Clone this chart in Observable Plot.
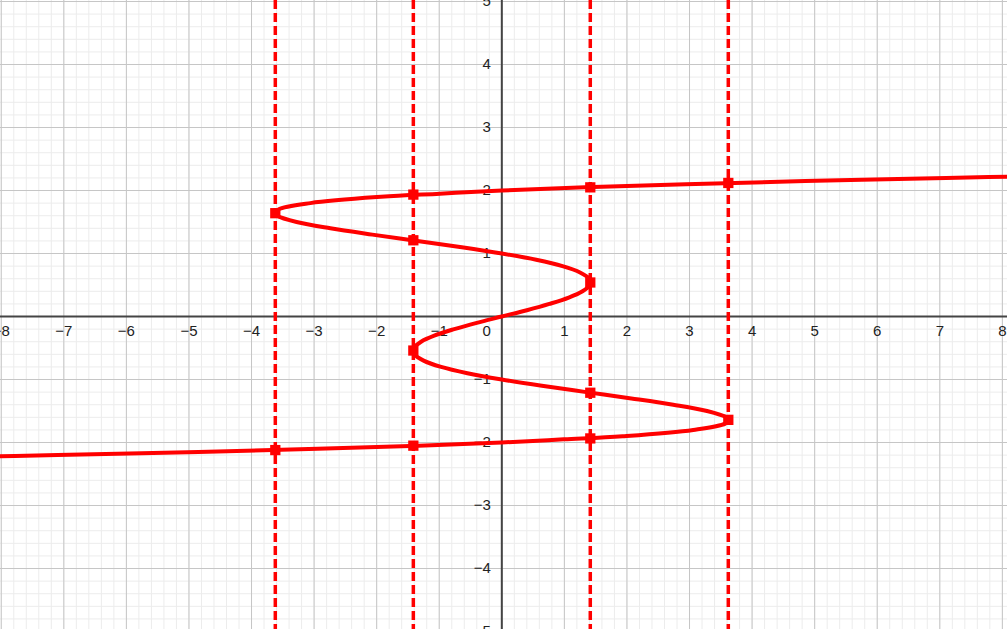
<!DOCTYPE html>
<html>
<head>
<meta charset="utf-8">
<script src="https://cdn.jsdelivr.net/npm/d3@7"></script>
<script src="https://cdn.jsdelivr.net/npm/@observablehq/plot@0.6"></script>
<style>
  html, body { margin: 0; padding: 0; background: #fff; overflow: hidden; }
</style>
</head>
<body>
<div id="chart"></div>
<script>
// Tick labels
const xTicks = [-8, -7, -6, -5, -4, -3, -2, -1, 1, 2, 3, 4, 5, 6, 7, 8];
const yTicks = [-5, -4, -3, -2, -1, 1, 2, 3, 4, 5];

// Curve points (y, x)
const curveY = [-2.24, -2.22, -2.2, -2.15, -2.1, -2.05, -2.0, -1.95, -1.9, -1.8, -1.7, -1.64, -1.6, -1.5, -1.4, -1.3, -1.2, -1.1, -1.0, -0.9, -0.8, -0.7, -0.6, -0.54, -0.5, -0.4, -0.3, -0.2, -0.1, 0,
  0.1, 0.2, 0.3, 0.4, 0.5, 0.54, 0.6, 0.7, 0.8, 0.9, 1.0, 1.1, 1.2, 1.3, 1.4, 1.5, 1.6, 1.64, 1.7, 1.8, 1.9, 1.95, 2.0, 2.05, 2.1, 2.15, 2.2, 2.22, 2.24];
const curveX = [-9.1, -8.1, -7.1, -4.85, -2.94, -1.33, 0, 0.99, 1.93, 3.06, 3.57, 3.63, 3.59, 3.28, 2.74, 2.07, 1.35, 0.64, 0, -0.55, -0.97, -1.25, -1.40, -1.42, -1.41, -1.29, -1.07, -0.76, -0.40, 0,
  0.40, 0.76, 1.07, 1.29, 1.41, 1.42, 1.40, 1.25, 0.97, 0.55, 0, -0.64, -1.35, -2.07, -2.74, -3.28, -3.59, -3.63, -3.57, -3.06, -1.93, -0.99, 0, 1.33, 2.94, 4.85, 7.1, 8.1, 9.1];

// Vertical dashed lines
const vLines = [-3.62, -1.414, 1.414, 3.62];

// Marked intersection points
const markX = [-3.62, -3.62, -1.414, -1.414, -1.414, -1.414, 1.414, 1.414, 1.414, 1.414, 3.62, 3.62];
const markY = [1.64, -2.12, 1.935, 1.21, -0.54, -2.05, 2.05, 0.54, -1.21, -1.935, 2.12, -1.64];

const curve = curveY.map((y, i) => ({x: curveX[i], y}));
const marks = markX.map((x, i) => ({x, y: markY[i]}));

const minorX = d3.range(-80, 81, 2).map(v => v / 10);
const minorY = d3.range(-50, 51, 2).map(v => v / 10);
const majorX = d3.range(-8, 9);
const majorY = d3.range(-5, 6);

const fmt = d => d < 0 ? "\u2212" + Math.abs(d) : String(d);

const chart = Plot.plot({
  width: 1007,
  height: 629,
  margin: 0,
  x: {domain: [-8.012, 8.082], axis: null},
  y: {domain: [-4.968, 5.016], axis: null},
  style: {fontFamily: "'Liberation Sans', Arial, sans-serif", fontSize: "15px", background: "#fff"},
  marks: [
    Plot.ruleX(minorX, {stroke: "#ececec", strokeWidth: 1}),
    Plot.ruleY(minorY, {stroke: "#ececec", strokeWidth: 1}),
    Plot.ruleX(majorX, {stroke: "#c6c6c6", strokeWidth: 1}),
    Plot.ruleY(majorY, {stroke: "#c6c6c6", strokeWidth: 1}),
    Plot.ruleX([0], {stroke: "#444", strokeWidth: 2}),
    Plot.ruleY([0], {stroke: "#444", strokeWidth: 2}),
    Plot.text(xTicks, {x: d => d, y: 0, dy: 15, text: fmt, fill: "#222"}),
    Plot.text(yTicks, {x: 0, y: d => d, dx: -11, textAnchor: "end", text: fmt, fill: "#222"}),
    Plot.text([0], {x: 0, y: 0, dx: -11, dy: 15, textAnchor: "end", text: d => "0", fill: "#222"}),
    Plot.ruleX(vLines, {stroke: "#ff0000", strokeWidth: 3.5, strokeDasharray: "9,4"}),
    Plot.line(curve, {x: "x", y: "y", stroke: "#ff0000", strokeWidth: 4, curve: "catmull-rom", clip: true}),
    Plot.dot(marks, {x: "x", y: "y", symbol: "square", r: 5.8, fill: "#ff0000", stroke: "none"})
  ]
});
document.getElementById("chart").appendChild(chart);
</script>
</body>
</html>
